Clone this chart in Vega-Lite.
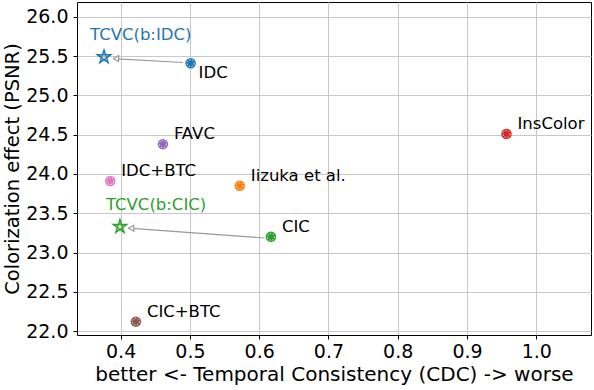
{
  "$schema": "https://vega.github.io/schema/vega-lite/v6.json",
  "autosize": {"type": "none"},
  "width": 514,
  "height": 333,
  "padding": {"left": 77, "top": 2, "right": 3, "bottom": 55},
  "background": "white",
  "config": {
    "font": "DejaVu Sans",
    "view": {"stroke": "black", "strokeWidth": 1},
    "axis": {
      "labelFont": "DejaVu Sans",
      "titleFont": "DejaVu Sans",
      "labelFontSize": 19,
      "titleFontSize": 20,
      "titleFontWeight": "normal",
      "labelColor": "black",
      "titleColor": "black",
      "tickColor": "black",
      "tickSize": 4,
      "domain": false,
      "gridColor": "#c8c8c8",
      "gridWidth": 1
    }
  },
  "datasets": {
    "pts": [
      {"name": "IDC", "cdc": 0.501, "psnr": 25.41, "group": "IDC", "kind": "base"},
      {"name": "FAVC", "cdc": 0.461, "psnr": 24.38, "group": "FAVC", "kind": "base"},
      {"name": "InsColor", "cdc": 0.957, "psnr": 24.51, "group": "InsColor", "kind": "base"},
      {"name": "IDC+BTC", "cdc": 0.385, "psnr": 23.91, "group": "IDC+BTC", "kind": "base"},
      {"name": "Iizuka et al.", "cdc": 0.572, "psnr": 23.85, "group": "Iizuka", "kind": "base"},
      {"name": "CIC", "cdc": 0.617, "psnr": 23.2, "group": "CIC", "kind": "base"},
      {"name": "CIC+BTC", "cdc": 0.422, "psnr": 22.12, "group": "CIC+BTC", "kind": "base"},
      {"name": "TCVC(b:IDC)", "cdc": 0.376, "psnr": 25.49, "group": "IDC", "kind": "ours"},
      {"name": "TCVC(b:CIC)", "cdc": 0.399, "psnr": 23.33, "group": "CIC", "kind": "ours"}
    ],
    "arrows": [
      {"from": "IDC", "cdc": 0.49, "psnr": 25.42, "cdc2": 0.389, "psnr2": 25.47},
      {"from": "CIC", "cdc": 0.608, "psnr": 23.185, "cdc2": 0.411, "psnr2": 23.31}
    ]
  },
  "layer": [
    {
      "data": {"name": "arrows"},
      "mark": {"type": "rule", "color": "#999999", "strokeWidth": 1.2},
      "encoding": {
        "x": {
          "field": "cdc", "type": "quantitative",
          "scale": {"domain": [0.337, 1.079], "nice": false, "zero": false},
          "axis": {"values": [0.4, 0.5, 0.6, 0.7, 0.8, 0.9, 1.0], "format": ".1f", "title": "better <- Temporal Consistency (CDC) -> worse", "titlePadding": 3, "labelPadding": 3}
        },
        "y": {
          "field": "psnr", "type": "quantitative",
          "scale": {"domain": [21.95, 26.19], "nice": false, "zero": false},
          "axis": {"values": [22.0, 22.5, 23.0, 23.5, 24.0, 24.5, 25.0, 25.5, 26.0], "format": ".1f", "title": "Colorization effect (PSNR)", "titleFontSize": 19.5, "titlePadding": 3, "labelPadding": 5}
        },
        "x2": {"field": "cdc2"},
        "y2": {"field": "psnr2"}
      }
    },
    {
      "data": {"name": "arrows"},
      "mark": {"type": "point", "shape": "triangle-left", "filled": true, "color": "white", "stroke": "#999999", "strokeWidth": 1.2, "size": 35, "xOffset": 3, "opacity": 1},
      "encoding": {
        "x": {"field": "cdc2", "type": "quantitative"},
        "y": {"field": "psnr2", "type": "quantitative"}
      }
    },
    {
      "data": {"name": "pts"},
      "transform": [{"filter": "datum.kind === 'base'"}],
      "mark": {"type": "circle", "size": 110, "opacity": 1},
      "encoding": {
        "x": {"field": "cdc", "type": "quantitative"},
        "y": {"field": "psnr", "type": "quantitative"},
        "color": {
          "field": "group", "type": "nominal", "legend": null,
          "scale": {
            "domain": ["IDC", "Iizuka", "CIC", "InsColor", "FAVC", "CIC+BTC", "IDC+BTC"],
            "range": ["#1f77b4", "#ff7f0e", "#2ca02c", "#d62728", "#9467bd", "#8c564b", "#e377c2"]
          }
        }
      }
    },
    {
      "data": {"name": "pts"},
      "transform": [{"filter": "datum.kind === 'base'"}],
      "mark": {"type": "point", "shape": "circle", "size": 50, "filled": false, "stroke": "white", "strokeWidth": 0.8, "strokeDash": [1.5, 1.5], "opacity": 1},
      "encoding": {
        "x": {"field": "cdc", "type": "quantitative"},
        "y": {"field": "psnr", "type": "quantitative"}
      }
    },
    {
      "data": {"name": "pts"},
      "transform": [{"filter": "datum.kind === 'ours'"}],
      "mark": {"type": "point", "shape": "M0,-1L0.2245,-0.309L0.951,-0.309L0.363,0.118L0.588,0.809L0,0.382L-0.588,0.809L-0.363,0.118L-0.951,-0.309L-0.2245,-0.309Z", "size": 200, "filled": false, "strokeWidth": 1.4, "opacity": 1},
      "encoding": {
        "x": {"field": "cdc", "type": "quantitative"},
        "y": {"field": "psnr", "type": "quantitative"},
        "color": {"field": "group", "type": "nominal", "legend": null}
      }
    },
    {
      "data": {"name": "pts"},
      "transform": [{"filter": "datum.kind === 'ours'"}],
      "mark": {"type": "point", "shape": "M0,-1L0.2245,-0.309L0.951,-0.309L0.363,0.118L0.588,0.809L0,0.382L-0.588,0.809L-0.363,0.118L-0.951,-0.309L-0.2245,-0.309Z", "size": 50, "filled": false, "strokeWidth": 0.8, "opacity": 1},
      "encoding": {
        "x": {"field": "cdc", "type": "quantitative"},
        "y": {"field": "psnr", "type": "quantitative"},
        "color": {"field": "group", "type": "nominal", "legend": null}
      }
    },
    {
      "data": {"name": "pts"},
      "transform": [{"filter": "datum.kind === 'base' && datum.name !== 'IDC'"}],
      "mark": {"type": "text", "align": "left", "baseline": "middle", "dx": 11, "dy": -10, "fontSize": 16.5, "color": "black", "font": "DejaVu Sans"},
      "encoding": {
        "x": {"field": "cdc", "type": "quantitative"},
        "y": {"field": "psnr", "type": "quantitative"},
        "text": {"field": "name"}
      }
    },
    {
      "data": {"name": "pts"},
      "transform": [{"filter": "datum.name === 'IDC'"}],
      "mark": {"type": "text", "align": "left", "baseline": "middle", "dx": 8, "dy": 10, "fontSize": 16.5, "color": "black", "font": "DejaVu Sans"},
      "encoding": {
        "x": {"field": "cdc", "type": "quantitative"},
        "y": {"field": "psnr", "type": "quantitative"},
        "text": {"field": "name"}
      }
    },
    {
      "data": {"name": "pts"},
      "transform": [{"filter": "datum.kind === 'ours'"}],
      "mark": {"type": "text", "align": "left", "baseline": "middle", "dx": -14, "dy": -22, "fontSize": 16.5, "font": "DejaVu Sans"},
      "encoding": {
        "x": {"field": "cdc", "type": "quantitative"},
        "y": {"field": "psnr", "type": "quantitative"},
        "text": {"field": "name"},
        "color": {"field": "group", "type": "nominal", "legend": null}
      }
    }
  ]
}
